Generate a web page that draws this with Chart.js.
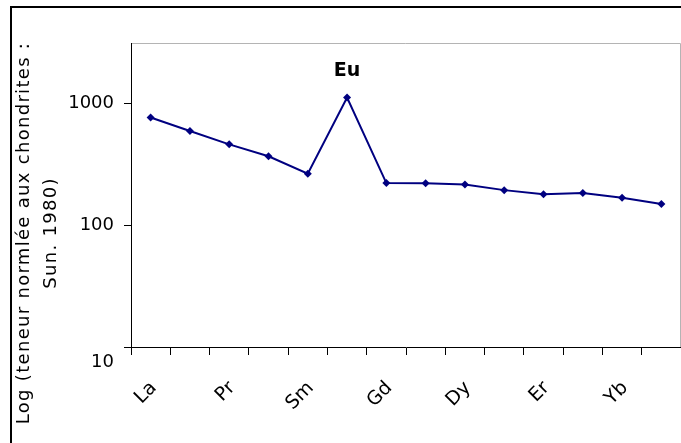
<!DOCTYPE html>
<html>
<head>
<meta charset="utf-8">
<script src="https://cdn.jsdelivr.net/npm/chart.js@4"></script>
<style>
  html, body { margin: 0; padding: 0; background: #fff; overflow: hidden; }
  #wrap { width: 685px; height: 443px; position: relative; }
</style>
</head>
<body>
<div id="wrap"><canvas id="terres-rares"></canvas></div>
<script>
// REE normalised to chondrite (Sun 1980)
const elements = ['La', 'Ce', 'Pr', 'Nd', 'Sm', 'Eu', 'Gd', 'Tb', 'Dy', 'Ho', 'Er', 'Tm', 'Yb', 'Lu'];
const normalised = [771, 598, 464, 370, 266, 1127, 223, 222, 217, 195, 180, 185, 169, 150];
const yTicks = [10, 31.62, 100, 316.2, 1000, 3162.28];
const yLabels = ['10', '', '100', '', '1000', ''];
const yTitle = ['Log (teneur normlée aux chondrites :', 'Sun. 1980)'];
const peakLabel = 'Eu';

const navy = '#000080';
const txtFont = '"DejaVu Sans", sans-serif';

// cadre, bordure grise de la zone, titre Y et etiquette Eu
const decor = {
  id: 'decor',
  beforeDraw(chart) {
    const { ctx, chartArea: a } = chart;
    ctx.save();
    ctx.strokeStyle = '#b4b4b4';
    ctx.lineWidth = 1;
    ctx.beginPath();
    ctx.moveTo(a.left, a.top + 0.5);
    ctx.lineTo(a.right - 0.5, a.top + 0.5);
    ctx.lineTo(a.right - 0.5, a.bottom);
    ctx.stroke();
    ctx.restore();
  },
  afterDraw(chart) {
    const { ctx } = chart;
    ctx.save();
    // cadre noir du graphique
    ctx.fillStyle = '#000';
    ctx.fillRect(10, 6, 2, 443);
    ctx.fillRect(10, 6, 685, 2);

    // titre de l'axe Y
    ctx.font = '18px ' + txtFont;
    ctx.letterSpacing = '1.3px';
    ctx.textAlign = 'center';
    ctx.textBaseline = 'middle';
    ctx.fillStyle = '#000';
    ctx.translate(0, 233);
    ctx.rotate(-Math.PI / 2);
    ctx.fillText(yTitle[0], 0, 24);
    ctx.fillText(yTitle[1], 0, 51);
    ctx.restore();

    // etiquette Eu au-dessus du pic
    const pt = chart.getDatasetMeta(0).data[elements.indexOf(peakLabel)];
    ctx.save();
    ctx.font = 'bold 19px ' + txtFont;
    ctx.textAlign = 'center';
    ctx.textBaseline = 'middle';
    ctx.fillStyle = '#000';
    ctx.fillText(peakLabel, pt.x, pt.y - 26);
    ctx.restore();
  }
};

new Chart(document.getElementById('terres-rares'), {
  type: 'line',
  data: {
    labels: elements,
    datasets: [{
      label: 'Teneur normée',
      data: normalised,
      borderColor: navy,
      backgroundColor: navy,
      borderWidth: 2,
      pointStyle: 'rectRot',
      pointRadius: 4,
      pointBorderWidth: 0,
      tension: 0
    }]
  },
  options: {
    responsive: true,
    maintainAspectRatio: false,
    animation: false,
    layout: { padding: { top: 43, right: 0, bottom: 0, left: 0 } },
    plugins: {
      legend: { display: false },
      tooltip: { enabled: false }
    },
    scales: {
      x: {
        type: 'category',
        offset: true,
        grid: {
          offset: true,
          drawOnChartArea: false,
          drawTicks: true,
          tickLength: 8,
          color: '#000'
        },
        border: { color: '#000', width: 1 },
        ticks: {
          autoSkip: false,
          maxRotation: 45,
          minRotation: 45,
          padding: 22,
          labelOffset: 3,
          color: '#000',
          font: { family: txtFont, size: 19 },
          callback: function(value, index) {
            return index % 2 === 0 ? this.getLabelForValue(value) : '';
          }
        },
        afterFit: scale => {
          scale.height = 96;
          scale.paddingLeft = 0;
          scale.paddingRight = 0;
        }
      },
      y: {
        type: 'logarithmic',
        min: 10,
        max: 3162.28,
        grid: {
          drawOnChartArea: false,
          drawTicks: true,
          tickLength: 7,
          color: '#000'
        },
        border: { color: '#000', width: 1 },
        afterBuildTicks: scale => {
          scale.ticks = yTicks.map(v => ({ value: v }));
        },
        ticks: {
          padding: 10,
          color: '#000',
          font: { family: txtFont, size: 18, lineHeight: 1.65 },
          callback: (value, index) => {
            const lab = yLabels[index];
            // le 10 est décalé sous l'axe comme sur l'original
            return lab === '10' ? ['', lab] : lab;
          }
        },
        afterFit: scale => {
          scale.width = 131;
          scale.paddingTop = 0;
          scale.paddingBottom = 0;
        }
      }
    }
  },
  plugins: [decor]
});
</script>
</body>
</html>
